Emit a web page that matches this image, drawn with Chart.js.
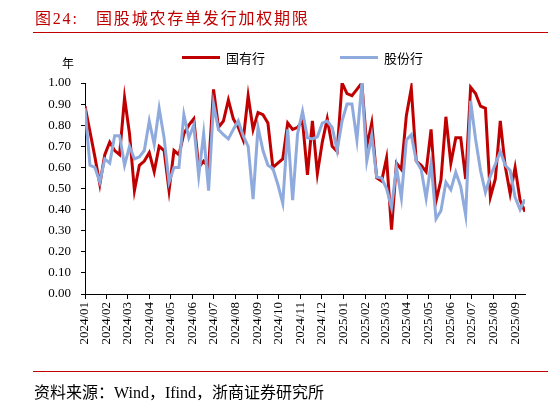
<!DOCTYPE html>
<html>
<head>
<meta charset="utf-8">
<script src="https://cdn.jsdelivr.net/npm/chart.js@4.4.1/dist/chart.umd.min.js"></script>
<style>
  body { margin: 0; background: #fff; }
  #page { position: relative; width: 548px; height: 402px; overflow: hidden; background: #fff; }
  #page canvas { position: absolute; left: 0; top: 0; }
  .txt { position: absolute; white-space: nowrap; }
  #titulo { left: 35px; top: 5px; font: 16px "Liberation Serif", "Noto Sans CJK SC"; color: #c00000; letter-spacing: 1.8px; }
  .regra { position: absolute; left: 33px; right: 0; height: 1px; background: #c00000; }
  #unidade { left: 62px; top: 54px; font: 12px "Noto Sans CJK SC"; color: #000; }
  .leg { position: absolute; top: 48px; font: 13px "Noto Sans CJK SC"; color: #000; display: flex; align-items: center; }
  .leg span.linha { display: inline-block; width: 38px; height: 3px; margin-right: 6px; }
  #fonte { left: 34px; top: 379px; font: 16px "Liberation Serif", "Noto Sans CJK SC"; color: #000; }
</style>
</head>
<body>
<div id="page">
  <canvas id="grafico" width="548" height="402"></canvas>
  <div id="titulo" class="txt">图24:&nbsp;&nbsp;&nbsp;国股城农存单发行加权期限</div>
  <div class="regra" style="top:32px"></div>
  <div id="unidade" class="txt">年</div>
  <div class="leg" style="left:182px"><span class="linha" style="background:#c00000"></span>国有行</div>
  <div class="leg" style="left:340px"><span class="linha" style="background:#8faadc"></span>股份行</div>
  <div class="regra" style="top:371px"></div>
  <div id="fonte" class="txt">资料来源：Wind，Ifind，浙商证券研究所</div>
</div>
<script>
// Dados semanais a partir de 2024-01-01
const inicio = '2024-01-01';

// Rótulos do eixo X (um por mês)
const meses = ['2024/01', '2024/02', '2024/03', '2024/04', '2024/05', '2024/06', '2024/07',
  '2024/08', '2024/09', '2024/10', '2024/11', '2024/12', '2025/01', '2025/02', '2025/03',
  '2025/04', '2025/05', '2025/06', '2025/07', '2025/08', '2025/09'];

// Rótulos do eixo Y
const ticksY = [0, 0.1, 0.2, 0.3, 0.4, 0.5, 0.6, 0.7, 0.8, 0.9, 1.0];

// 国有行
const guoyou = [0.89, 0.77, 0.65, 0.52, 0.66, 0.72, 0.68, 0.66, 0.93, 0.76,
  0.49, 0.61, 0.63, 0.67, 0.58, 0.70, 0.68, 0.49, 0.68, 0.66,
  0.76, 0.80, 0.83, 0.60, 0.63, 0.60, 0.97, 0.79, 0.82, 0.92,
  0.83, 0.79, 0.73, 0.94, 0.78, 0.86, 0.85, 0.81, 0.60, 0.62,
  0.64, 0.81, 0.78, 0.79, 0.82, 0.565, 0.82, 0.57, 0.72, 0.83,
  0.70, 0.675, 1.00, 0.95, 0.94, 0.97, 1.00, 0.70, 0.81, 0.55,
  0.535, 0.645, 0.305, 0.62, 0.59, 0.845, 0.975, 0.63, 0.61, 0.58,
  0.78, 0.44, 0.54, 0.84, 0.62, 0.74, 0.74, 0.545, 0.98, 0.95,
  0.89, 0.88, 0.46, 0.545, 0.82, 0.605, 0.475, 0.60, 0.445, 0.39];

// 股份行
const gufen = [0.88, 0.61, 0.60, 0.53, 0.64, 0.62, 0.75, 0.75, 0.61, 0.70,
  0.64, 0.65, 0.68, 0.82, 0.71, 0.88, 0.74, 0.53, 0.60, 0.60,
  0.85, 0.74, 0.80, 0.56, 0.76, 0.49, 0.90, 0.78, 0.755, 0.735,
  0.78, 0.82, 0.75, 0.70, 0.45, 0.79, 0.68, 0.61, 0.595, 0.52,
  0.43, 0.78, 0.445, 0.76, 0.865, 0.74, 0.735, 0.745, 0.81, 0.82,
  0.79, 0.68, 0.82, 0.90, 0.90, 0.73, 1.00, 0.63, 0.75, 0.555,
  0.55, 0.50, 0.41, 0.60, 0.455, 0.73, 0.755, 0.63, 0.59, 0.454,
  0.62, 0.356, 0.395, 0.53, 0.494, 0.577, 0.509, 0.373, 0.915, 0.735,
  0.585, 0.482, 0.56, 0.615, 0.675, 0.61, 0.585, 0.458, 0.40, 0.448];

const DIA = 86400000;
const t0 = Date.parse(inicio + 'T00:00:00Z');

// dias desde o início para cada mês
const diasMes = meses.map(m => {
  const [a, mm] = m.split('/');
  return (Date.UTC(+a, +mm - 1, 1) - t0) / DIA;
});

function pontos(serie) {
  return serie.map((v, i) => ({ x: i * 7, y: v }));
}

const fonteSerif = { family: '"Liberation Serif", "Times New Roman", serif' };

function initChart() {
  const ctx = document.getElementById('grafico').getContext('2d');
  new Chart(ctx, {
    type: 'line',
    data: {
      datasets: [
        {
          label: '股份行',
          data: pontos(gufen),
          borderColor: '#8faadc',
          borderWidth: 3,
          pointRadius: 0,
          tension: 0,
          order: 0
        },
        {
          label: '国有行',
          data: pontos(guoyou),
          borderColor: '#c00000',
          borderWidth: 3,
          pointRadius: 0,
          tension: 0,
          order: 1
        }
      ]
    },
    options: {
      responsive: false,
      animation: false,
      devicePixelRatio: 1,
      layout: { padding: { left: 35, right: 23, top: 83, bottom: 52 } },
      plugins: {
        legend: { display: false },
        tooltip: { enabled: false }
      },
      scales: {
        x: {
          type: 'linear',
          min: 0,
          max: (guoyou.length - 1) * 7,
          afterBuildTicks: scale => { scale.ticks = diasMes.map(v => ({ value: v })); },
          afterFit: scale => { scale.height = 56; },
          grid: { display: true, drawOnChartArea: false, drawTicks: true, tickLength: 5, color: '#000' },
          border: { display: true, color: '#000', width: 1 },
          ticks: {
            autoSkip: false,
            minRotation: 90,
            maxRotation: 90,
            padding: 3,
            color: '#000',
            font: { ...fonteSerif, size: 13 },
            callback: v => meses[diasMes.indexOf(v)]
          }
        },
        y: {
          min: 0,
          max: 1,
          afterBuildTicks: scale => { scale.ticks = ticksY.map(v => ({ value: v })); },
          afterFit: scale => { scale.width = 50; },
          grid: { display: true, drawOnChartArea: false, drawTicks: true, tickLength: 4, color: '#000' },
          border: { display: true, color: '#000', width: 1 },
          ticks: {
            padding: 10,
            color: '#000',
            font: { ...fonteSerif, size: 13 },
            callback: v => v.toFixed(2)
          }
        }
      }
    }
  });
}

window.onload = function() {
  initChart();
};
</script>
</body>
</html>
